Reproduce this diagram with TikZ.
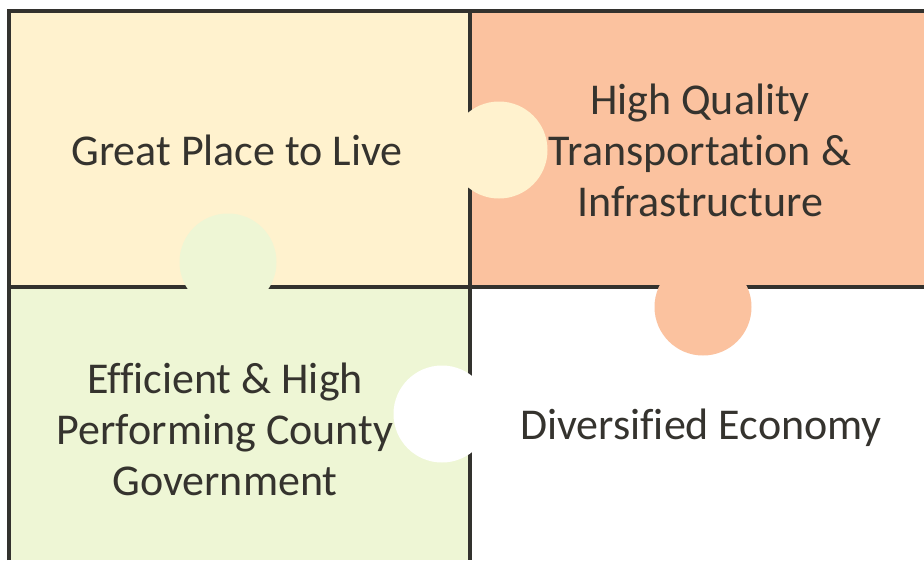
\documentclass[tikz,border=0pt]{standalone}
\usepackage{fontspec}
\setmainfont{Carlito}[Ligatures=NoCommon]
\definecolor{qyellow}{HTML}{FFF2CE}
\definecolor{qsalmon}{HTML}{FBC29F}
\definecolor{qgreen}{HTML}{EEF6D5}
\definecolor{qline}{HTML}{33322E}
\definecolor{qtext}{HTML}{35332E}
\begin{document}
\begin{tikzpicture}[x=1pt,y=-1pt,
  divider/.style={draw=qline,line width=3.2pt},
  label/.style={text=qtext,align=center,font=\fontsize{44}{51}\selectfont,inner sep=0pt},
  tab/.style={circle,minimum size=97pt,inner sep=0pt}]
\useasboundingbox (0,0) rectangle (924,560);
\fill[white] (0,0) rectangle (924,560);
\fill[qyellow] (9,11) rectangle (470,287);
\fill[qsalmon] (470,11) rectangle (924,287);
\fill[qgreen] (9,287) rectangle (470,560);
\draw[divider] (9,560) -- (9,11) -- (924,11);
\draw[divider] (470,11) -- (470,560);
\draw[divider] (9,287) -- (924,287);
\node[tab,fill=qyellow] (tabA) at (499,150) {};
\node[tab,fill=qgreen] (tabB) at (228,262) {};
\node[tab,fill=qsalmon] (tabC) at (703,307) {};
\node[tab,fill=white] (tabD) at (442,414) {};
\node[label] (live) at (237,150) {Great Place to Live};
\node[label] (transport) at (700,150) {High Quality\\Transportation \&\\Infrastructure};
\node[label] (gov) at (225,429) {Efficient \& High\\Performing County\\Government};
\node[label] (econ) at (701,428) {Diversified Economy};
\end{tikzpicture}
\end{document}
